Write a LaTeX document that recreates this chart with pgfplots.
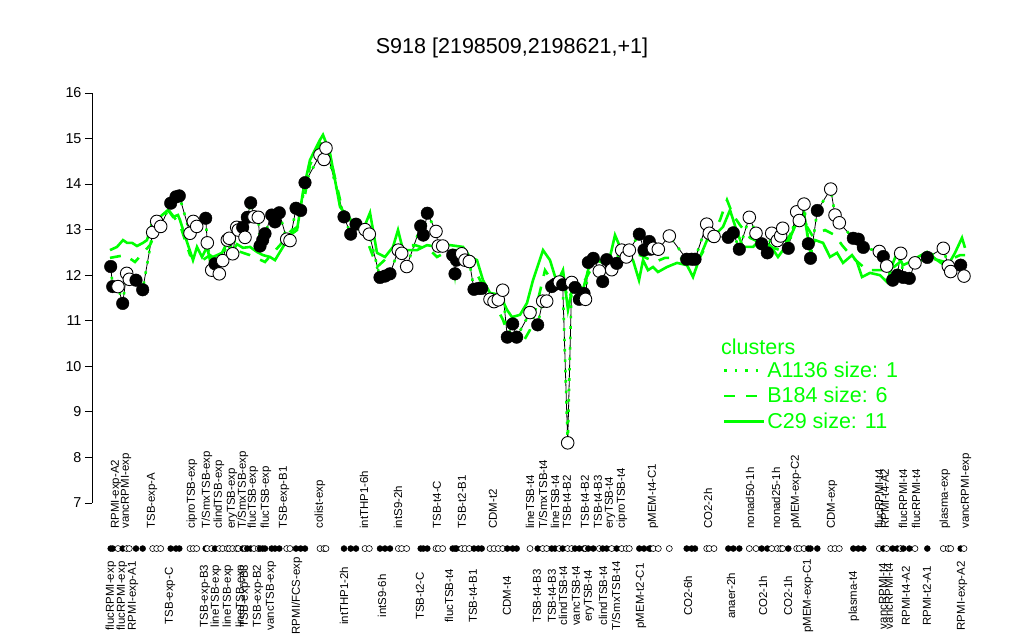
\documentclass[border=0pt]{standalone}
\usepackage{pgfplots}
\usepackage{pgfplotstable}
\pgfplotsset{compat=1.18}
\usepackage{fontspec}
\setmainfont{Liberation Sans}
\definecolor{grn}{RGB}{0,255,0}
\newcommand{\lbl}{\fontsize{11.5}{13}\selectfont}

\pgfplotstableread{
x y f
110.7 12.19 1
112.7 11.75 1
118.0 11.75 0
122.7 11.38 1
126.7 12.04 0
129.3 11.91 0
136.0 11.89 1
142.7 11.68 1
152.7 12.94 0
156.7 13.18 0
160.7 13.07 0
170.7 13.58 1
176.0 13.72 1
179.3 13.74 1
190.0 12.92 0
193.3 13.18 0
196.7 13.07 0
205.7 13.25 1
207.3 12.71 0
211.7 12.11 0
215.0 12.25 1
219.3 12.03 0
222.7 12.32 0
227.3 12.77 0
229.3 12.81 0
232.7 12.47 0
236.7 13.05 0
238.3 12.99 0
242.7 13.05 1
245.0 12.83 0
247.3 13.27 1
250.7 13.59 1
254.0 13.28 0
258.3 13.27 0
260.0 12.64 1
262.7 12.77 1
265.0 12.91 1
271.7 13.32 1
275.0 13.17 1
279.3 13.37 1
286.7 12.79 0
290.0 12.76 0
296.0 13.47 1
300.7 13.42 1
305.0 14.03 1
320.0 14.64 0
324.0 14.54 0
326.0 14.79 0
344.0 13.28 1
350.7 12.90 1
356.0 13.12 1
365.0 13.00 0
369.3 12.90 0
380.0 11.95 1
385.0 11.98 1
390.0 12.03 1
398.3 12.55 0
401.7 12.48 0
406.7 12.19 0
420.7 13.08 1
423.3 12.88 1
427.3 13.36 1
436.0 12.96 0
438.3 12.64 0
442.7 12.64 0
452.7 12.44 1
455.0 12.03 1
456.5 12.33 1
461.7 12.47 0
465.0 12.33 0
469.3 12.30 0
474.0 11.69 1
478.3 11.71 1
481.7 11.71 1
490.0 11.47 0
494.0 11.42 0
498.3 11.46 0
502.7 11.67 0
507.3 10.64 1
512.7 10.93 1
516.7 10.64 1
530.0 11.18 0
537.7 10.91 1
542.7 11.43 0
546.7 11.43 0
551.7 11.75 1
555.0 11.80 1
559.3 11.85 0
562.7 11.79 1
567.7 8.32 0
571.7 11.84 0
575.0 11.73 1
579.3 11.47 1
584.0 11.60 1
585.5 11.47 0
588.3 12.28 1
593.3 12.37 1
599.3 12.09 0
602.7 11.86 1
606.7 12.34 1
611.7 12.12 0
616.7 12.26 1
621.7 12.55 0
626.3 12.40 0
629.3 12.55 0
639.3 12.90 1
644.0 12.55 1
649.3 12.74 1
650.5 12.57 1
653.3 12.59 0
658.3 12.57 0
669.3 12.86 0
686.7 12.35 1
691.7 12.35 1
695.0 12.35 1
706.7 13.12 0
709.3 12.92 0
714.0 12.85 0
728.3 12.83 1
733.3 12.93 1
739.3 12.57 1
749.3 13.27 0
756.0 12.92 0
761.7 12.69 1
767.3 12.49 1
771.7 12.92 0
777.3 12.76 0
780.7 12.86 0
782.7 13.03 0
788.3 12.59 1
796.7 13.39 0
799.3 13.20 0
804.0 13.56 0
808.3 12.69 1
810.5 12.37 1
817.3 13.42 1
830.7 13.89 0
835.0 13.32 0
839.3 13.15 0
853.3 12.81 1
858.3 12.79 1
863.3 12.61 1
879.3 12.52 0
883.3 12.41 1
886.7 12.20 0
892.7 11.89 1
897.3 12.00 1
900.7 12.48 0
903.3 11.95 1
909.3 11.93 1
915.0 12.27 0
927.3 12.39 1
943.3 12.59 0
948.3 12.20 0
950.7 12.08 0
960.7 12.22 1
964.0 11.98 0
}\blk

\pgfplotstableread{
x y
110 12.55
117 12.62
123 12.77
127 12.71
132 12.71
137 12.64
143 12.71
147 12.77
153 13.21
160 13.28
168 13.43
173 13.28
178 13.32
180 13.21
184 12.93
193 12.33
197 12.62
202 12.40
207 12.62
210 12.33
213 12.40
222 12.49
227 12.71
232 12.51
237 12.68
243 12.60
250 12.62
257 12.51
263 12.44
270 12.40
275 12.33
283 12.62
290 12.88
297 12.99
303 13.83
310 14.53
320 14.97
323 15.08
330 14.68
340 13.50
350 13.21
363 12.99
370 13.37
377 12.49
385 12.40
393 12.62
398 12.99
403 12.55
417 12.55
427 12.66
437 12.62
450 12.66
463 12.62
470 12.40
477 12.33
483 11.89
490 11.61
500 11.57
507 11.24
512 11.08
520 11.13
527 11.39
533 11.89
543 12.55
550 12.33
557 11.83
563 12.11
568 11.24
572 11.68
575 11.89
583 11.68
590 12.27
597 12.33
603 12.27
610 12.40
615 12.88
620 12.62
627 12.49
633 12.33
639 11.89
643 12.33
648 12.11
653 12.18
658 12.07
667 12.18
677 12.27
687 12.22
693 11.96
700 12.40
707 12.77
717 12.93
723 13.06
730 13.43
737 12.95
743 12.62
753 12.62
760 12.77
770 12.66
778 12.40
783 12.55
790 12.82
797 13.17
803 13.47
810 12.55
815 12.77
823 12.71
830 12.40
837 12.49
843 12.27
852 12.44
857 12.29
862 11.96
870 12.05
880 12.00
887 11.85
893 12.27
897 12.49
903 12.22
910 12.29
918 12.40
927 12.51
937 12.33
947 12.18
955 12.49
962 12.82
965 12.60
}\csol

\pgfplotstableread{
x y
110 12.38
125 12.44
135 12.29
150 12.66
160 13.17
170 13.39
180 13.10
190 12.44
200 12.29
210 12.44
220 12.29
235 12.55
250 12.44
265 12.29
280 12.66
290 12.95
300 13.10
310 14.42
322 14.97
332 14.42
342 13.47
355 13.10
365 12.88
377 12.18
390 12.44
400 12.66
415 12.66
430 12.55
437 12.40
450 12.55
465 12.55
475 12.11
485 11.68
495 11.35
503 11.02
510 10.58
523 10.53
530 10.80
538 11.46
545 12.11
555 11.78
562 12.00
568 11.46
575 11.78
585 11.89
595 12.29
610 12.38
625 12.44
640 12.44
655 12.29
665 12.38
680 12.38
695 12.22
707 12.66
720 13.21
727 13.65
733 13.32
740 13.10
750 12.82
765 12.66
780 12.55
790 12.88
800 13.32
812 12.88
825 12.99
835 12.88
842 12.66
852 12.40
867 12.11
880 12.11
890 12.11
900 12.29
915 12.29
930 12.38
945 12.29
960 12.44
965 12.44
}\bdash

\begin{document}
\begin{tikzpicture}
\begin{axis}[
  x=1bp, y=45.56bp,
  xmin=92, xmax=985, ymin=7, ymax=16,
  clip=false,
  axis x line=none,
  axis y line*=left,
  y axis line style={black, line width=0.8bp},
  ytick={7,8,...,16},
  tick align=outside,
  major tick length=7bp,
  ytick style={black, line width=0.8bp},
  yticklabel style={font=\fontsize{14.4}{17}\selectfont},
  /pgf/number format/assume math mode=true,
  legend style={at={(axis cs:720,10.18)}, anchor=north west, draw=none, fill=none,
     font=\fontsize{21.6}{25}\selectfont, text=grn, row sep=5.5bp,
     nodes={inner sep=1.5bp}},
  legend cell align=left,
  legend image code/.code={\draw[#1] (0bp,0bp) -- (40bp,0bp);},
]
\path (axis cs:0,3.993) rectangle (axis cs:1024,18.04);

\addplot[black, line width=0.8bp, forget plot] table[x=x,y=y]{\blk};
\addplot[grn, line width=2.6bp, dash pattern=on 2.6bp off 7.8bp] table[x=x,y=y]{\blk};
\addlegendentry{A1136 size: 1}
\addplot[grn, line width=2.6bp, dash pattern=on 11bp off 11bp] table[x=x,y=y]{\bdash};
\addlegendentry{B184 size: 6}
\addplot[grn, line width=2.6bp] table[x=x,y=y]{\csol};
\addlegendentry{C29 size: 11}

\addplot[scatter, only marks, forget plot, mark=*, mark size=6.3bp,
  point meta=explicit symbolic,
  scatter/classes={1={mark=*,draw=black,fill=black}, 0={mark=*,draw=black,fill=white,line width=0.9bp}}]
  table[x=x,y=y,meta=f]{\blk};
\addplot[scatter, only marks, forget plot, mark=*, mark size=3bp,
  point meta=explicit symbolic,
  scatter/classes={1={mark=*,draw=black,fill=black}, 0={mark=*,draw=black,fill=white,line width=0.6bp}}]
  table[x=x,y expr=6,meta=f]{\blk};

\node[font=\fontsize{21.6}{25}\selectfont] at (axis cs:512,16.98) {S918 [2198509,2198621,+1]};
\node[font=\fontsize{21.6}{25}\selectfont, text=grn, anchor=west, inner sep=0pt] at (axis cs:721,10.42) {clusters};

% lower labels
\node[rotate=90,font=\lbl] at (axis cs:111,4.96) {flucRPMI-exp};
\node[rotate=90,font=\lbl] at (axis cs:122,4.96) {flucRPMI-exp};
\node[rotate=90,font=\lbl] at (axis cs:133,4.96) {RPMI-exp-A1};
\node[rotate=90,font=\lbl] at (axis cs:170,4.96) {TSB-exp-C};
\node[rotate=90,font=\lbl] at (axis cs:205,4.96) {TSB-exp-B3};
\node[rotate=90,font=\lbl] at (axis cs:216,4.96) {lineTSB-exp};
\node[rotate=90,font=\lbl] at (axis cs:228,4.96) {lineTSB-exp};
\node[rotate=90,font=\lbl] at (axis cs:241,4.96) {lineTSB-exp};
\node[rotate=90,font=\lbl] at (axis cs:245,4.96) {TSB-exp-B3};
\node[rotate=90,font=\lbl] at (axis cs:258,4.96) {TSB-exp-B2};
\node[rotate=90,font=\lbl] at (axis cs:271,4.96) {vancTSB-exp};
\node[rotate=90,font=\lbl] at (axis cs:297,4.96) {RPMI/FCS-exp};
\node[rotate=90,font=\lbl] at (axis cs:344,4.96) {intTHP1-2h};
\node[rotate=90,font=\lbl] at (axis cs:382,4.96) {intS9-6h};
\node[rotate=90,font=\lbl] at (axis cs:420,4.96) {TSB-t2-C};
\node[rotate=90,font=\lbl] at (axis cs:449,4.96) {flucTSB-t4};
\node[rotate=90,font=\lbl] at (axis cs:473,4.96) {TSB-t4-B1};
\node[rotate=90,font=\lbl] at (axis cs:507,4.96) {CDM-t4};
\node[rotate=90,font=\lbl] at (axis cs:537,4.96) {TSB-t4-B3};
\node[rotate=90,font=\lbl] at (axis cs:552,4.96) {TSB-t4-B3};
\node[rotate=90,font=\lbl] at (axis cs:563,4.96) {clindTSB-t4};
\node[rotate=90,font=\lbl] at (axis cs:576,4.96) {vancTSB-t4};
\node[rotate=90,font=\lbl] at (axis cs:589,4.96) {eryTSB-t4};
\node[rotate=90,font=\lbl] at (axis cs:603,4.96) {clindTSB-t4};
\node[rotate=90,font=\lbl] at (axis cs:616,4.96) {T/SmxTSB-t4};
\node[rotate=90,font=\lbl] at (axis cs:641,4.96) {pMEM-t2-C1};
\node[rotate=90,font=\lbl] at (axis cs:688,4.96) {CO2-6h};
\node[rotate=90,font=\lbl] at (axis cs:731,4.96) {anaer-2h};
\node[rotate=90,font=\lbl] at (axis cs:763,4.96) {CO2-1h};
\node[rotate=90,font=\lbl] at (axis cs:788,4.96) {CO2-1h};
\node[rotate=90,font=\lbl] at (axis cs:808,4.96) {pMEM-exp-C1};
\node[rotate=90,font=\lbl] at (axis cs:854,4.96) {plasma-t4};
\node[rotate=90,font=\lbl] at (axis cs:883,4.96) {vancRPMI-t4};
\node[rotate=90,font=\lbl] at (axis cs:889,4.96) {vancRPMI-t4};
\node[rotate=90,font=\lbl] at (axis cs:906,4.96) {RPMI-t4-A2};
\node[rotate=90,font=\lbl] at (axis cs:927,4.96) {RPMI-t2-A1};
\node[rotate=90,font=\lbl] at (axis cs:962,4.96) {RPMI-exp-A2};
% upper labels
\node[rotate=90,anchor=west,font=\lbl] at (axis cs:116,6.36) {RPMI-exp-A2};
\node[rotate=90,anchor=west,font=\lbl] at (axis cs:126,6.36) {vancRPMI-exp};
\node[rotate=90,anchor=west,font=\lbl] at (axis cs:152,6.36) {TSB-exp-A};
\node[rotate=90,anchor=west,font=\lbl] at (axis cs:192,6.36) {ciproTSB-exp};
\node[rotate=90,anchor=west,font=\lbl] at (axis cs:207,6.36) {T/SmxTSB-exp};
\node[rotate=90,anchor=west,font=\lbl] at (axis cs:219,6.36) {clindTSB-exp};
\node[rotate=90,anchor=west,font=\lbl] at (axis cs:232,6.36) {eryTSB-exp};
\node[rotate=90,anchor=west,font=\lbl] at (axis cs:243,6.36) {T/SmxTSB-exp};
\node[rotate=90,anchor=west,font=\lbl] at (axis cs:253,6.36) {flucTSB-exp};
\node[rotate=90,anchor=west,font=\lbl] at (axis cs:266,6.36) {flucTSB-exp};
\node[rotate=90,anchor=west,font=\lbl] at (axis cs:284,6.36) {TSB-exp-B1};
\node[rotate=90,anchor=west,font=\lbl] at (axis cs:320,6.36) {colist-exp};
\node[rotate=90,anchor=west,font=\lbl] at (axis cs:364,6.36) {intTHP1-6h};
\node[rotate=90,anchor=west,font=\lbl] at (axis cs:398,6.36) {intS9-2h};
\node[rotate=90,anchor=west,font=\lbl] at (axis cs:437,6.36) {TSB-t4-C};
\node[rotate=90,anchor=west,font=\lbl] at (axis cs:462,6.36) {TSB-t2-B1};
\node[rotate=90,anchor=west,font=\lbl] at (axis cs:493,6.36) {CDM-t2};
\node[rotate=90,anchor=west,font=\lbl] at (axis cs:530,6.36) {lineTSB-t4};
\node[rotate=90,anchor=west,font=\lbl] at (axis cs:543,6.36) {T/SmxTSB-t4};
\node[rotate=90,anchor=west,font=\lbl] at (axis cs:555,6.36) {lineTSB-t4};
\node[rotate=90,anchor=west,font=\lbl] at (axis cs:567,6.36) {TSB-t4-B2};
\node[rotate=90,anchor=west,font=\lbl] at (axis cs:585,6.36) {TSB-t4-B2};
\node[rotate=90,anchor=west,font=\lbl] at (axis cs:598,6.36) {TSB-t4-B3};
\node[rotate=90,anchor=west,font=\lbl] at (axis cs:610,6.36) {eryTSB-t4};
\node[rotate=90,anchor=west,font=\lbl] at (axis cs:622,6.36) {ciproTSB-t4};
\node[rotate=90,anchor=west,font=\lbl] at (axis cs:653,6.36) {pMEM-t4-C1};
\node[rotate=90,anchor=west,font=\lbl] at (axis cs:708,6.36) {CO2-2h};
\node[rotate=90,anchor=west,font=\lbl] at (axis cs:750,6.36) {nonad50-1h};
\node[rotate=90,anchor=west,font=\lbl] at (axis cs:776,6.36) {nonad25-1h};
\node[rotate=90,anchor=west,font=\lbl] at (axis cs:796,6.36) {pMEM-exp-C2};
\node[rotate=90,anchor=west,font=\lbl] at (axis cs:832,6.36) {CDM-exp};
\node[rotate=90,anchor=west,font=\lbl] at (axis cs:879,6.36) {flucRPMI-t4};
\node[rotate=90,anchor=west,font=\lbl] at (axis cs:885,6.36) {RPMI-t4-A2};
\node[rotate=90,anchor=west,font=\lbl] at (axis cs:903,6.36) {flucRPMI-t4};
\node[rotate=90,anchor=west,font=\lbl] at (axis cs:916,6.36) {flucRPMI-t4};
\node[rotate=90,anchor=west,font=\lbl] at (axis cs:945,6.36) {plasma-exp};
\node[rotate=90,anchor=west,font=\lbl] at (axis cs:966,6.36) {vancRPMI-exp};
\end{axis}
\end{tikzpicture}
\end{document}
